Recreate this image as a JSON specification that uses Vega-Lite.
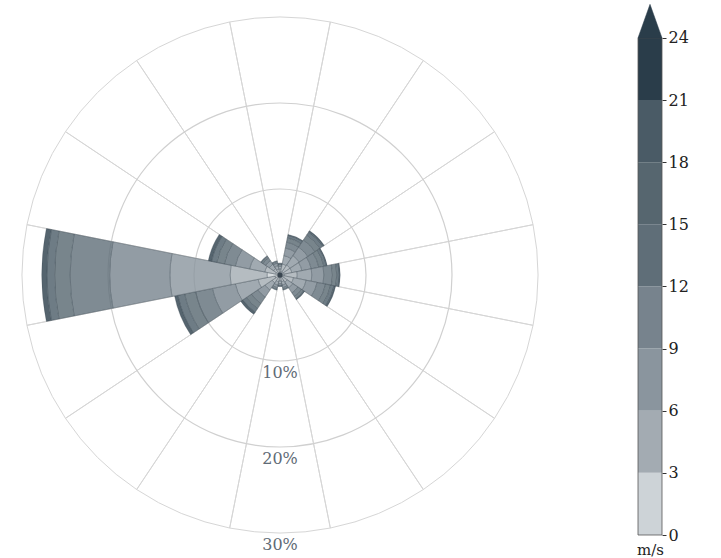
{
  "$schema": "https://vega.github.io/schema/vega-lite/v6.json",
  "padding": 0,
  "spacing": 77,
  "config": {"view": {"stroke": null}, "font": "DejaVu Serif"},
  "resolve": {"scale": {"color": "independent"}},
  "datasets": {
    "dirs": [{"dir":"N"},{"dir":"NNE"},{"dir":"NE"},{"dir":"ENE"},{"dir":"E"},{"dir":"ESE"},{"dir":"SE"},{"dir":"SSE"},{"dir":"S"},{"dir":"SSW"},{"dir":"SW"},{"dir":"WSW"},{"dir":"W"},{"dir":"WNW"},{"dir":"NW"},{"dir":"NNW"}],
    "rings": [{"r": 10}, {"r": 20}],
    "labels": [{"label": "10%", "r": 10}, {"label": "20%", "r": 20}, {"label": "30%", "r": 30}],
    "rose": [
      {"dir":"N","bin":0,"f":0.3},{"dir":"N","bin":1,"f":0.4},{"dir":"N","bin":2,"f":0.3},{"dir":"N","bin":3,"f":0.2},{"dir":"N","bin":4,"f":0.1},{"dir":"N","bin":5,"f":0.1},
      {"dir":"NNE","bin":0,"f":0.4},{"dir":"NNE","bin":1,"f":0.9},{"dir":"NNE","bin":2,"f":1.0},{"dir":"NNE","bin":3,"f":0.9},{"dir":"NNE","bin":4,"f":0.7},{"dir":"NNE","bin":5,"f":0.5},{"dir":"NNE","bin":6,"f":0.3},{"dir":"NNE","bin":7,"f":0.1},
      {"dir":"NE","bin":0,"f":0.4},{"dir":"NE","bin":1,"f":1.0},{"dir":"NE","bin":2,"f":1.3},{"dir":"NE","bin":3,"f":1.2},{"dir":"NE","bin":4,"f":1.0},{"dir":"NE","bin":5,"f":0.7},{"dir":"NE","bin":6,"f":0.4},{"dir":"NE","bin":7,"f":0.2},
      {"dir":"ENE","bin":0,"f":0.4},{"dir":"ENE","bin":1,"f":1.0},{"dir":"ENE","bin":2,"f":1.2},{"dir":"ENE","bin":3,"f":1.1},{"dir":"ENE","bin":4,"f":0.9},{"dir":"ENE","bin":5,"f":0.6},{"dir":"ENE","bin":6,"f":0.3},{"dir":"ENE","bin":7,"f":0.1},
      {"dir":"E","bin":0,"f":0.5},{"dir":"E","bin":1,"f":1.5},{"dir":"E","bin":2,"f":1.7},{"dir":"E","bin":3,"f":1.4},{"dir":"E","bin":4,"f":1.0},{"dir":"E","bin":5,"f":0.5},{"dir":"E","bin":6,"f":0.3},{"dir":"E","bin":7,"f":0.1},
      {"dir":"ESE","bin":0,"f":0.4},{"dir":"ESE","bin":1,"f":1.2},{"dir":"ESE","bin":2,"f":1.5},{"dir":"ESE","bin":3,"f":1.3},{"dir":"ESE","bin":4,"f":1.0},{"dir":"ESE","bin":5,"f":0.6},{"dir":"ESE","bin":6,"f":0.4},{"dir":"ESE","bin":7,"f":0.2},
      {"dir":"SE","bin":0,"f":0.3},{"dir":"SE","bin":1,"f":0.7},{"dir":"SE","bin":2,"f":0.8},{"dir":"SE","bin":3,"f":0.7},{"dir":"SE","bin":4,"f":0.5},{"dir":"SE","bin":5,"f":0.3},{"dir":"SE","bin":6,"f":0.1},{"dir":"SE","bin":7,"f":0.05},
      {"dir":"SSE","bin":0,"f":0.3},{"dir":"SSE","bin":1,"f":0.5},{"dir":"SSE","bin":2,"f":0.4},{"dir":"SSE","bin":3,"f":0.3},{"dir":"SSE","bin":4,"f":0.2},{"dir":"SSE","bin":5,"f":0.1},
      {"dir":"S","bin":0,"f":0.3},{"dir":"S","bin":1,"f":0.4},{"dir":"S","bin":2,"f":0.3},{"dir":"S","bin":3,"f":0.2},{"dir":"S","bin":4,"f":0.1},{"dir":"S","bin":5,"f":0.05},
      {"dir":"SSW","bin":0,"f":0.3},{"dir":"SSW","bin":1,"f":0.5},{"dir":"SSW","bin":2,"f":0.4},{"dir":"SSW","bin":3,"f":0.3},{"dir":"SSW","bin":4,"f":0.2},{"dir":"SSW","bin":5,"f":0.1},
      {"dir":"SW","bin":0,"f":0.3},{"dir":"SW","bin":1,"f":0.8},{"dir":"SW","bin":2,"f":1.0},{"dir":"SW","bin":3,"f":1.0},{"dir":"SW","bin":4,"f":0.9},{"dir":"SW","bin":5,"f":0.7},{"dir":"SW","bin":6,"f":0.5},{"dir":"SW","bin":7,"f":0.3},
      {"dir":"WSW","bin":0,"f":0.6},{"dir":"WSW","bin":1,"f":2.0},{"dir":"WSW","bin":2,"f":2.7},{"dir":"WSW","bin":3,"f":2.7},{"dir":"WSW","bin":4,"f":2.0},{"dir":"WSW","bin":5,"f":1.3},{"dir":"WSW","bin":6,"f":0.8},{"dir":"WSW","bin":7,"f":0.4},
      {"dir":"W","bin":0,"f":1.5},{"dir":"W","bin":1,"f":4.3},{"dir":"W","bin":2,"f":7.0},{"dir":"W","bin":3,"f":7.0},{"dir":"W","bin":4,"f":4.6},{"dir":"W","bin":5,"f":1.8},{"dir":"W","bin":6,"f":0.9},{"dir":"W","bin":7,"f":0.6},
      {"dir":"WNW","bin":0,"f":0.5},{"dir":"WNW","bin":1,"f":1.3},{"dir":"WNW","bin":2,"f":1.8},{"dir":"WNW","bin":3,"f":1.7},{"dir":"WNW","bin":4,"f":1.3},{"dir":"WNW","bin":5,"f":0.9},{"dir":"WNW","bin":6,"f":0.6},{"dir":"WNW","bin":7,"f":0.4},
      {"dir":"NW","bin":0,"f":0.3},{"dir":"NW","bin":1,"f":0.6},{"dir":"NW","bin":2,"f":0.6},{"dir":"NW","bin":3,"f":0.5},{"dir":"NW","bin":4,"f":0.4},{"dir":"NW","bin":5,"f":0.2},{"dir":"NW","bin":6,"f":0.1},
      {"dir":"NNW","bin":0,"f":0.3},{"dir":"NNW","bin":1,"f":0.4},{"dir":"NNW","bin":2,"f":0.4},{"dir":"NNW","bin":3,"f":0.3},{"dir":"NNW","bin":4,"f":0.2},{"dir":"NNW","bin":5,"f":0.1}
    ],
    "cbar": [
      {"bin":0,"lo":0,"hi":3},{"bin":1,"lo":3,"hi":6},{"bin":2,"lo":6,"hi":9},{"bin":3,"lo":9,"hi":12},
      {"bin":4,"lo":12,"hi":15},{"bin":5,"lo":15,"hi":18},{"bin":6,"lo":18,"hi":21},{"bin":7,"lo":21,"hi":24}
    ],
    "cframe": [{"lo": 0, "hi": 24}]
  },
  "hconcat": [
    {
      "width": 560,
      "height": 550,
      "resolve": {"scale": {"theta": "independent"}},
      "layer": [
        {
          "data": {"name": "dirs"},
          "mark": {"type": "arc", "fill": null, "filled": false, "stroke": "#d6d6d6", "strokeWidth": 1},
          "encoding": {
            "theta": {"field": "dir", "type": "ordinal", "sort": null,
              "scale": {"type": "band", "domain": ["N","NNE","NE","ENE","E","ESE","SE","SSE","S","SSW","SW","WSW","W","WNW","NW","NNW"], "range": [-0.19635, 6.08684], "paddingInner": 0, "paddingOuter": 0}},
            "radius": {"datum": 30, "type": "quantitative", "stack": null, "scale": {"type": "linear", "domain": [0, 30], "range": [0, 258], "zero": true, "nice": false}}
          }
        },
        {
          "data": {"name": "rings"},
          "mark": {"type": "arc", "fill": null, "filled": false, "stroke": "#d0d0d0", "strokeWidth": 1.2},
          "encoding": {
            "radius": {"field": "r", "type": "quantitative", "stack": null}
          }
        },
        {
          "data": {"name": "rose"},
          "transform": [
            {"stack": "f", "groupby": ["dir"], "sort": [{"field": "bin", "order": "ascending"}], "as": ["r0", "r1"]}
          ],
          "mark": {"type": "arc", "stroke": "#3e4a55", "strokeWidth": 0.6, "strokeOpacity": 0.5, "fillOpacity": 0.8},
          "encoding": {
            "theta": {"field": "dir", "type": "ordinal", "sort": null,
              "scale": {"type": "band", "domain": ["N","NNE","NE","ENE","E","ESE","SE","SSE","S","SSW","SW","WSW","W","WNW","NW","NNW"], "range": [-0.19635, 6.08684], "paddingInner": 0, "paddingOuter": 0}},
            "radius": {"field": "r1", "type": "quantitative", "stack": null},
            "radius2": {"field": "r0"},
            "color": {"field": "bin", "type": "ordinal", "legend": null,
              "scale": {"domain": [0,1,2,3,4,5,6,7], "range": ["#cdd3d7","#a3abb2","#8a959e","#77838d","#5f6e78","#56666f","#4a5b66","#2a3d4a"]}}
          }
        },
        {
          "data": {"values": [{"r": 0.3}]},
          "mark": {"type": "arc", "fill": "#3a4650"},
          "encoding": {"radius": {"field": "r", "type": "quantitative", "stack": null}}
        },
        {
          "data": {"name": "labels"},
          "mark": {"type": "text", "font": "DejaVu Serif", "fontSize": 16, "color": "#5f6b76", "baseline": "middle", "align": "center", "dy": 12},
          "encoding": {
            "theta": {"datum": 180, "type": "quantitative", "scale": {"domain": [0, 360], "range": [0, 6.283185]}},
            "radius": {"field": "r", "type": "quantitative", "stack": null},
            "text": {"field": "label"}
          }
        }
      ]
    },
    {
      "width": 24,
      "height": 535,
      "title": {"text": "m/s", "orient": "bottom", "anchor": "start", "font": "DejaVu Serif", "fontSize": 15, "fontWeight": "normal", "color": "#222222", "offset": 0},
      "layer": [
        {
          "data": {"name": "cbar"},
          "mark": {"type": "rect"},
          "encoding": {
            "y": {"field": "lo", "type": "quantitative",
              "scale": {"domain": [0, 25.83], "nice": false, "zero": true},
              "axis": {"orient": "right", "values": [0,3,6,9,12,15,18,21,24], "title": null, "grid": false, "domain": false, "tickSize": 4, "tickColor": "#333333", "labelFont": "DejaVu Serif", "labelFontSize": 16, "labelColor": "#222222", "labelPadding": 2}},
            "y2": {"field": "hi"},
            "color": {"field": "bin", "type": "ordinal", "legend": null,
              "scale": {"domain": [0,1,2,3,4,5,6,7], "range": ["#cdd3d7","#a3abb2","#8a959e","#77838d","#5f6e78","#56666f","#4a5b66","#2a3d4a"]}}
          }
        },
        {
          "data": {"name": "cframe"},
          "mark": {"type": "rect", "fill": null, "filled": false, "stroke": "#555555", "strokeWidth": 0.8},
          "encoding": {
            "y": {"field": "lo", "type": "quantitative"},
            "y2": {"field": "hi"}
          }
        },
        {
          "data": {"values": [{"v": 24.81}]},
          "mark": {"type": "point", "shape": "M-1,1.4L0,-1.4L1,1.4Z", "filled": true, "fill": "#2a3d4a", "stroke": "#2a3d4a", "strokeWidth": 0.5, "opacity": 1, "size": 576},
          "encoding": {"y": {"field": "v", "type": "quantitative"}}
        }
      ]
    }
  ]
}
